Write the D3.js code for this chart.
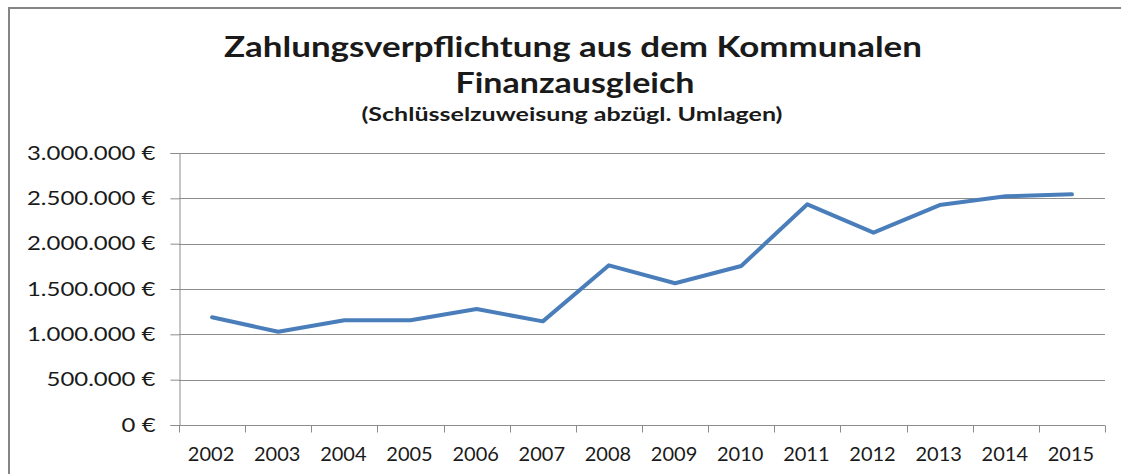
<!DOCTYPE html>
<html>
<head>
<meta charset="utf-8">
<script src="https://cdn.jsdelivr.net/npm/d3@7"></script>
<style>
  html, body { margin: 0; padding: 0; background: #fff; }
  svg { display: block; }
  text { font-family: Lato, "Open Sans", sans-serif; fill: #1a1a1a; }
</style>
</head>
<body>
<svg id="chart" width="1121" height="474"></svg>
<script>
const years = ["2002","2003","2004","2005","2006","2007","2008","2009","2010","2011","2012","2013","2014","2015"];
const values = [1188000, 1029000, 1155000, 1155000, 1279000, 1143000, 1761000, 1563000, 1754000, 2434000, 2121000, 2426000, 2522000, 2544000];
const yTicks = [0, 500000, 1000000, 1500000, 2000000, 2500000, 3000000];
const titleLines = ["Zahlungsverpflichtung aus dem Kommunalen", "Finanzausgleich"];
const subtitle = "(Schlüsselzuweisung abzügl. Umlagen)";

const svg = d3.select("#chart");
const W = 1121, H = 474;
const m = { left: 179, right: 1105, top: 153, bottom: 425 };

// outer chart border
svg.append("line").attr("x1", 9).attr("x2", W).attr("y1", 8).attr("y2", 8)
  .attr("stroke", "#858585").attr("stroke-width", 2);
svg.append("line").attr("x1", 9).attr("x2", 9).attr("y1", 7).attr("y2", H)
  .attr("stroke", "#858585").attr("stroke-width", 2);

const x = d3.scaleBand().domain(years).range([m.left, m.right]).padding(0);
const y = d3.scaleLinear().domain([0, 3000000]).range([m.bottom, m.top]);

const fmt = v => d3.format(",")(v).replace(/,/g, ".") + " €";

// gridlines
svg.append("g").selectAll("line").data(yTicks.filter(d => d > 0)).join("line")
  .attr("x1", m.left).attr("x2", m.right)
  .attr("y1", d => Math.round(y(d)) + 0.5).attr("y2", d => Math.round(y(d)) + 0.5)
  .attr("stroke", "#8c8c8c").attr("stroke-width", 1);

// y axis
const yAxis = svg.append("g").attr("transform", `translate(${m.left + 0.5},0)`)
  .call(d3.axisLeft(y).tickValues(yTicks).tickFormat(fmt).tickSize(9).tickPadding(15));
yAxis.select(".domain").attr("stroke", "#8c8c8c");
yAxis.selectAll(".tick line").attr("stroke", "#8c8c8c");
yAxis.selectAll(".tick text").style("font-size", "19px").attr("fill", "#1a1a1a")
  .each(function () {
    const w = this.getComputedTextLength();
    d3.select(this).attr("textLength", w * 1.26).attr("lengthAdjust", "spacingAndGlyphs");
  });

// x axis with ticks at band boundaries
const xAxisG = svg.append("g").attr("transform", `translate(0,${m.bottom + 0.5})`);
xAxisG.append("line").attr("x1", m.left).attr("x2", m.right).attr("y1", 0).attr("y2", 0)
  .attr("stroke", "#8c8c8c");
const bounds = years.map(d => x(d)).concat([x(years[years.length - 1]) + x.bandwidth()]);
xAxisG.selectAll("line.tk").data(bounds).join("line").attr("class", "tk")
  .attr("x1", d => Math.round(d) + 0.5).attr("x2", d => Math.round(d) + 0.5)
  .attr("y1", 0).attr("y2", 7).attr("stroke", "#8c8c8c");
xAxisG.selectAll("text").data(years).join("text")
  .attr("x", d => x(d) + x.bandwidth() / 2 - 1).attr("y", 35)
  .attr("text-anchor", "middle").style("font-size", "20px").text(d => d);

// line
const line = d3.line().x((d, i) => x(years[i]) + x.bandwidth() / 2).y(d => y(d));
svg.append("path").datum(values).attr("d", line)
  .attr("fill", "none").attr("stroke", "#4a7ebb").attr("stroke-width", 4)
  .attr("stroke-linejoin", "round").attr("stroke-linecap", "round");

// titles (stretched horizontally to match reference widths)
function title(txt, cx, yb, size, width) {
  svg.append("text").attr("x", cx).attr("y", yb).attr("text-anchor", "middle")
    .style("font-size", size + "px").style("font-weight", "bold").attr("fill", "#000")
    .attr("textLength", width).attr("lengthAdjust", "spacingAndGlyphs").text(txt);
}
title(titleLines[0], 573, 57, 28, 698);
title(titleLines[1], 575, 93, 28, 239);
title(subtitle, 572, 121, 18, 421);
</script>
</body>
</html>
